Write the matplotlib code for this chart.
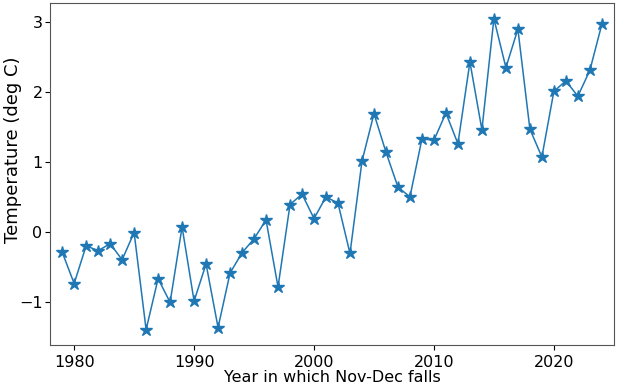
import matplotlib
matplotlib.use("Agg")
import matplotlib.pyplot as plt

# Nov-Dec mean temperature by year
years = list(range(1979, 2025))
temps = [-0.29, -0.74, -0.20, -0.27, -0.17, -0.40, -0.01, -1.40, -0.67, -1.01,
         0.07, -0.99, -0.46, -1.37, -0.59, -0.30, -0.10, 0.17, -0.79, 0.39,
         0.54, 0.19, 0.50, 0.41, -0.31, 1.01, 1.69, 1.14, 0.64, 0.50,
         1.33, 1.31, 1.70, 1.26, 2.43, 1.46, 3.05, 2.35, 2.90, 1.47,
         1.07, 2.01, 2.16, 1.94, 2.31, 2.97]

fig = plt.figure(figsize=(6.27, 3.87), dpi=100)
ax = fig.add_axes([0.080, 0.108, 0.899, 0.884])

ax.plot(years, temps, marker='*', markersize=9, linewidth=1.1, color='#1f77b4')
ax.set_xlim(1978, 2025)

ax.set_xlabel('Year in which Nov-Dec falls', fontsize=11.5, labelpad=0)
ax.set_ylabel('Temperature (deg C)', fontsize=13)
ax.yaxis.set_label_coords(-0.05, 0.57)
ax.tick_params(axis='x', labelsize=11.5)
ax.tick_params(axis='y', labelsize=11.5, pad=2)
for s in ax.spines.values():
    s.set_color('#555555')

fig.savefig('out.png', dpi=100)
